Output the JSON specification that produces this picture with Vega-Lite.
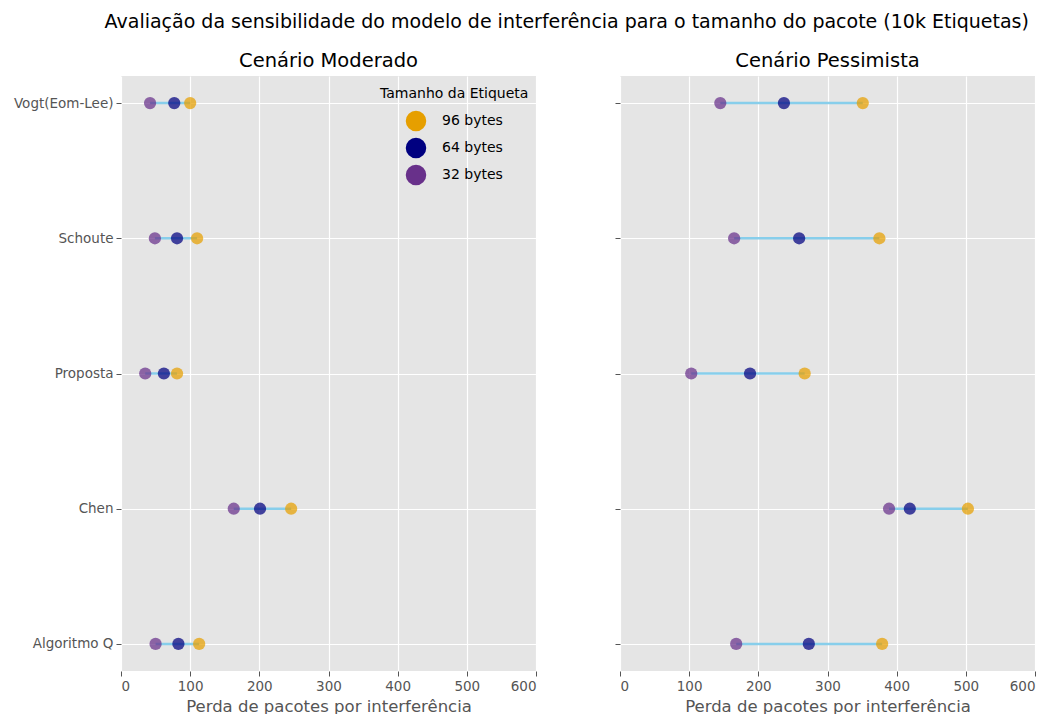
{
  "$schema": "https://vega.github.io/schema/vega-lite/v6.json",
  "background": "white",
  "padding": {"left": 10, "top": 12, "right": 10, "bottom": 4},
  "title": {
    "text": "Avaliação da sensibilidade do modelo de interferência para o tamanho do pacote (10k Etiquetas)",
    "fontSize": 19,
    "fontWeight": "normal",
    "color": "black",
    "anchor": "middle",
    "dx": 44,
    "offset": 19
  },
  "datasets": {
    "d": [
      {"cenario": "Moderado", "algoritmo": "Vogt(Eom-Lee)", "tamanho": "32 bytes", "perda": 42},
      {"cenario": "Moderado", "algoritmo": "Vogt(Eom-Lee)", "tamanho": "64 bytes", "perda": 77},
      {"cenario": "Moderado", "algoritmo": "Vogt(Eom-Lee)", "tamanho": "96 bytes", "perda": 100},
      {"cenario": "Moderado", "algoritmo": "Schoute", "tamanho": "32 bytes", "perda": 49},
      {"cenario": "Moderado", "algoritmo": "Schoute", "tamanho": "64 bytes", "perda": 81},
      {"cenario": "Moderado", "algoritmo": "Schoute", "tamanho": "96 bytes", "perda": 110},
      {"cenario": "Moderado", "algoritmo": "Proposta", "tamanho": "32 bytes", "perda": 35},
      {"cenario": "Moderado", "algoritmo": "Proposta", "tamanho": "64 bytes", "perda": 62},
      {"cenario": "Moderado", "algoritmo": "Proposta", "tamanho": "96 bytes", "perda": 81},
      {"cenario": "Moderado", "algoritmo": "Chen", "tamanho": "32 bytes", "perda": 163},
      {"cenario": "Moderado", "algoritmo": "Chen", "tamanho": "64 bytes", "perda": 201},
      {"cenario": "Moderado", "algoritmo": "Chen", "tamanho": "96 bytes", "perda": 246},
      {"cenario": "Moderado", "algoritmo": "Algoritmo Q", "tamanho": "32 bytes", "perda": 50},
      {"cenario": "Moderado", "algoritmo": "Algoritmo Q", "tamanho": "64 bytes", "perda": 83},
      {"cenario": "Moderado", "algoritmo": "Algoritmo Q", "tamanho": "96 bytes", "perda": 113},
      {"cenario": "Pessimista", "algoritmo": "Vogt(Eom-Lee)", "tamanho": "32 bytes", "perda": 145},
      {"cenario": "Pessimista", "algoritmo": "Vogt(Eom-Lee)", "tamanho": "64 bytes", "perda": 237},
      {"cenario": "Pessimista", "algoritmo": "Vogt(Eom-Lee)", "tamanho": "96 bytes", "perda": 351},
      {"cenario": "Pessimista", "algoritmo": "Schoute", "tamanho": "32 bytes", "perda": 165},
      {"cenario": "Pessimista", "algoritmo": "Schoute", "tamanho": "64 bytes", "perda": 259},
      {"cenario": "Pessimista", "algoritmo": "Schoute", "tamanho": "96 bytes", "perda": 375},
      {"cenario": "Pessimista", "algoritmo": "Proposta", "tamanho": "32 bytes", "perda": 103},
      {"cenario": "Pessimista", "algoritmo": "Proposta", "tamanho": "64 bytes", "perda": 188},
      {"cenario": "Pessimista", "algoritmo": "Proposta", "tamanho": "96 bytes", "perda": 267},
      {"cenario": "Pessimista", "algoritmo": "Chen", "tamanho": "32 bytes", "perda": 389},
      {"cenario": "Pessimista", "algoritmo": "Chen", "tamanho": "64 bytes", "perda": 419},
      {"cenario": "Pessimista", "algoritmo": "Chen", "tamanho": "96 bytes", "perda": 503},
      {"cenario": "Pessimista", "algoritmo": "Algoritmo Q", "tamanho": "32 bytes", "perda": 168},
      {"cenario": "Pessimista", "algoritmo": "Algoritmo Q", "tamanho": "64 bytes", "perda": 273},
      {"cenario": "Pessimista", "algoritmo": "Algoritmo Q", "tamanho": "96 bytes", "perda": 379}
    ]
  },
  "data": {"name": "d"},
  "spacing": 84,
  "bounds": "flush",
  "resolve": {"legend": {"color": "independent"}},
  "hconcat": [
    {
      "width": 415,
      "height": 595,
      "title": {"text": "Cenário Moderado"},
      "transform": [{"filter": "datum.cenario === 'Moderado'"}],
      "encoding": {
        "y": {
          "field": "algoritmo",
          "type": "nominal",
          "sort": ["Vogt(Eom-Lee)", "Schoute", "Proposta", "Chen", "Algoritmo Q"],
          "scale": {"type": "point", "padding": 0.2},
          "axis": {"title": null, "minExtent": 111, "maxExtent": 111}
        }
      },
      "layer": [
        {
          "mark": {"type": "rule", "color": "#87CEEB", "strokeWidth": 2.5},
          "encoding": {
            "x": {"aggregate": "min", "field": "perda", "type": "quantitative", "scale": {"domain": [0, 600], "nice": false},
                  "axis": {"title": "Perda de pacotes por interferência", "values": [0, 100, 200, 300, 400, 500, 600]}},
            "x2": {"aggregate": "max", "field": "perda"}
          }
        },
        {
          "mark": {"type": "circle", "size": 150, "opacity": 0.72},
          "encoding": {
            "x": {"field": "perda", "type": "quantitative", "scale": {"domain": [0, 600], "nice": false},
                  "axis": {"title": "Perda de pacotes por interferência", "values": [0, 100, 200, 300, 400, 500, 600]}},
            "color": {
              "field": "tamanho",
              "type": "nominal",
              "scale": {"domain": ["96 bytes", "64 bytes", "32 bytes"], "range": ["#E69F00", "#000080", "#68308A"]},
              "legend": {
                "title": "Tamanho da Etiqueta",
                "orient": "none",
                "legendX": 259,
                "legendY": 11,
                "symbolOffset": 25,
                "labelOffset": 15,
                "symbolSize": 420,
                "symbolOpacity": 1,
                "symbolType": "circle",
                "rowPadding": 5,
                "titlePadding": 9
              }
            }
          }
        }
      ]
    },
    {
      "width": 415,
      "height": 595,
      "title": {"text": "Cenário Pessimista"},
      "transform": [{"filter": "datum.cenario === 'Pessimista'"}],
      "encoding": {
        "y": {
          "field": "algoritmo",
          "type": "nominal",
          "sort": ["Vogt(Eom-Lee)", "Schoute", "Proposta", "Chen", "Algoritmo Q"],
          "scale": {"type": "point", "padding": 0.2},
          "axis": {"title": null, "labels": false}
        }
      },
      "layer": [
        {
          "mark": {"type": "rule", "color": "#87CEEB", "strokeWidth": 2.5},
          "encoding": {
            "x": {"aggregate": "min", "field": "perda", "type": "quantitative", "scale": {"domain": [0, 600], "nice": false},
                  "axis": {"title": "Perda de pacotes por interferência", "values": [0, 100, 200, 300, 400, 500, 600]}},
            "x2": {"aggregate": "max", "field": "perda"}
          }
        },
        {
          "mark": {"type": "circle", "size": 150, "opacity": 0.72},
          "encoding": {
            "x": {"field": "perda", "type": "quantitative", "scale": {"domain": [0, 600], "nice": false},
                  "axis": {"title": "Perda de pacotes por interferência", "values": [0, 100, 200, 300, 400, 500, 600]}},
            "color": {
              "field": "tamanho",
              "type": "nominal",
              "scale": {"domain": ["96 bytes", "64 bytes", "32 bytes"], "range": ["#E69F00", "#000080", "#68308A"]},
              "legend": null
            }
          }
        }
      ]
    }
  ],
  "config": {
    "font": "DejaVu Sans",
    "view": {"fill": "#E5E5E5", "stroke": null},
    "title": {"fontSize": 19.5, "fontWeight": "normal", "color": "black", "offset": 5},
    "axis": {
      "domain": false,
      "grid": true,
      "gridColor": "white",
      "gridWidth": 1.2,
      "tickColor": "#555555",
      "tickSize": 5,
      "labelColor": "#555555",
      "labelFontSize": 13.5,
      "labelPadding": 3,
      "titleColor": "#555555",
      "titleFontSize": 16.5,
      "titleFontWeight": "normal",
      "titlePadding": 6
    },
    "legend": {
      "titleColor": "black",
      "titleFontSize": 14,
      "titleFontWeight": "normal",
      "labelColor": "black",
      "labelFontSize": 14
    }
  }
}
